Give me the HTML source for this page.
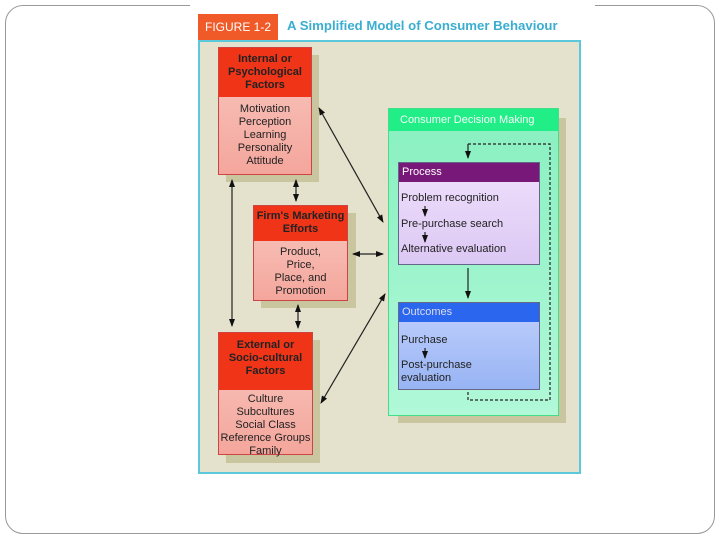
<!DOCTYPE html>
<html><head><style>
body{margin:0;width:720px;height:540px;background:#fff;position:relative;overflow:hidden;font-family:"Liberation Sans",sans-serif}
.a{position:absolute;box-sizing:border-box}
.hd{color:#222;font-weight:bold;font-size:11px;text-align:center;line-height:13px}
.bd{color:#222;font-size:11px;text-align:center;line-height:13px}
.l{color:#222;font-size:11px;line-height:13px;position:absolute}
</style></head><body>
<div class="a" style="left:5px;top:5px;width:710px;height:529px;border:1px solid #999;border-radius:18px"></div>
<div class="a" style="left:190px;top:0;width:405px;height:8px;background:#fff"></div>
<div class="a" style="left:198px;top:40px;width:383px;height:434px;background:#e4e2cc;border:2px solid #5cc8dc"></div>
<div class="a" style="left:198px;top:14px;width:80px;height:26px;background:#f05a28;color:#fff;font-size:12px;line-height:26px;text-align:center">FIGURE 1-2</div>
<div class="a" style="left:287px;top:18px;color:#3aaed0;font-size:13.2px;font-weight:bold">A Simplified Model of Consumer Behaviour</div>

<!-- internal -->
<div class="a" style="left:226px;top:55px;width:93px;height:127px;background:#c9c59e"></div>
<div class="a" style="left:218px;top:47px;width:94px;height:128px;border:1px solid #c44;background:linear-gradient(#f8c8c0,#f4a69c)">
<div class="hd" style="background:#f03418;height:44px;padding-top:5px">Internal or<br>Psychological<br>Factors</div>
<div class="bd" style="padding-top:6px">Motivation<br>Perception<br>Learning<br>Personality<br>Attitude</div></div>
<!-- firm -->
<div class="a" style="left:261px;top:213px;width:95px;height:95px;background:#c9c59e"></div>
<div class="a" style="left:253px;top:205px;width:95px;height:96px;border:1px solid #c44;background:linear-gradient(#f8c8c0,#f4a69c)">
<div class="hd" style="background:#f03418;height:31px;padding-top:4px">Firm's Marketing<br>Efforts</div>
<div class="bd" style="padding-top:5px">Product,<br>Price,<br>Place, and<br>Promotion</div></div>
<!-- external -->
<div class="a" style="left:226px;top:340px;width:94px;height:123px;background:#c9c59e"></div>
<div class="a" style="left:218px;top:332px;width:95px;height:123px;border:1px solid #c44;background:linear-gradient(#f8c8c0,#f4a69c)">
<div class="hd" style="background:#f03418;height:51px;padding-top:6px">External or<br>Socio-cultural<br>Factors</div>
<div class="bd" style="padding-top:3px">Culture<br>Subcultures<br>Social Class<br>Reference Groups<br>Family</div></div>
<!-- CDM -->
<div class="a" style="left:398px;top:118px;width:168px;height:305px;background:#c9c59e"></div>
<div class="a" style="left:388px;top:108px;width:171px;height:308px;border:1px solid #4d8;background:linear-gradient(#88f0c0,#b0f8d8)">
<div style="background:#22ee88;color:#f4fff8;font-size:11px;height:22px;line-height:22px;padding-left:11px">Consumer Decision Making</div></div>
<div class="a" style="left:398px;top:162px;width:142px;height:103px;border:1px solid #668;background:linear-gradient(#f0e0fc,#dcc8f4)">
<div style="background:#781878;color:#fff;font-size:11px;height:19px;line-height:19px;padding-left:3px">Process</div>
<div class="l" style="left:2px;top:29px">Problem recognition</div>
<div class="l" style="left:2px;top:55px">Pre-purchase search</div>
<div class="l" style="left:2px;top:80px">Alternative evaluation</div></div>
<div class="a" style="left:398px;top:302px;width:142px;height:88px;border:1px solid #668;background:linear-gradient(#c0d0fc,#98b4f4)">
<div style="background:#2a66ee;color:#dde;font-size:11px;height:19px;line-height:19px;padding-left:3px">Outcomes</div>
<div class="l" style="left:2px;top:31px">Purchase</div>
<div class="l" style="left:2px;top:56px">Post-purchase<br>evaluation</div></div>

<svg class="a" style="left:0;top:0" width="720" height="540">
<defs><marker id="m" markerWidth="8" markerHeight="8" refX="7" refY="4" orient="auto-start-reverse" markerUnits="userSpaceOnUse"><path d="M0,1 L8,4 L0,7z" fill="#111"/></marker></defs>
<g stroke="#222" stroke-width="1.2" fill="none">
<line x1="319" y1="108" x2="383" y2="222" marker-start="url(#m)" marker-end="url(#m)"/>
<line x1="353" y1="254" x2="383" y2="254" marker-start="url(#m)" marker-end="url(#m)"/>
<line x1="321" y1="403" x2="385" y2="294" marker-start="url(#m)" marker-end="url(#m)"/>
<line x1="296" y1="180" x2="296" y2="201" marker-start="url(#m)" marker-end="url(#m)"/>
<line x1="298" y1="305" x2="298" y2="328" marker-start="url(#m)" marker-end="url(#m)"/>
<line x1="232" y1="180" x2="232" y2="326" marker-start="url(#m)" marker-end="url(#m)"/>
<line x1="468" y1="268" x2="468" y2="298" marker-end="url(#m)"/>
<line x1="425" y1="206" x2="425" y2="216" marker-end="url(#m)"/>
<line x1="425" y1="232" x2="425" y2="242" marker-end="url(#m)"/>
<line x1="425" y1="348" x2="425" y2="358" marker-end="url(#m)"/>
<polyline points="468,392 468,400 550,400 550,144 468,144" stroke-dasharray="3,2"/>
<line x1="468" y1="144" x2="468" y2="158" marker-end="url(#m)"/>
</g></svg>
</body></html>
